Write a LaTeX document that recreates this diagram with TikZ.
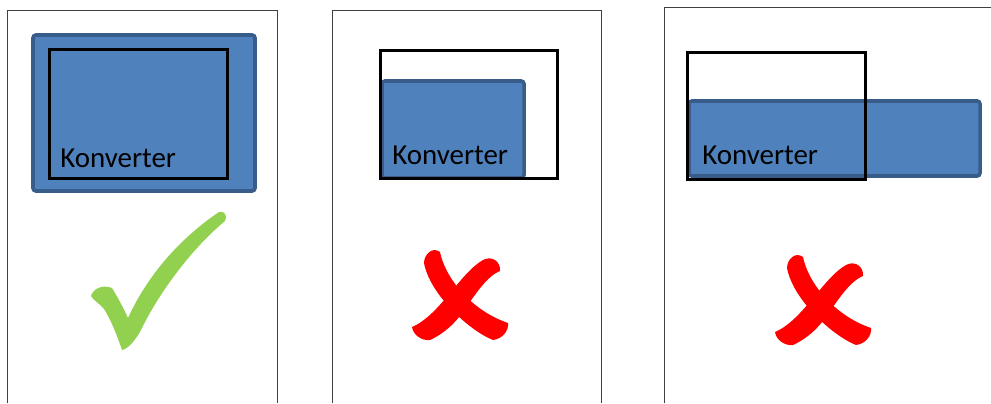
\documentclass[tikz,border=0pt]{standalone}
\usepackage{fontspec}
\setmainfont{Carlito}
\definecolor{kfill}{RGB}{79,129,189}
\definecolor{kedge}{RGB}{56,93,138}
\definecolor{okgreen}{RGB}{146,208,80}
\definecolor{badred}{RGB}{255,0,0}

\begin{document}
\begin{tikzpicture}[x=0.025cm, y=-0.025cm,
  frame/.style={draw=black!75, line width=0.7pt},
  conv/.style={fill=kfill, draw=kedge, line width=2.5pt, rounded corners=2pt},
  slot/.style={draw=black, line width=2.1pt},
  lbl/.style={anchor=base west, inner sep=0, font=\fontsize{20.6}{24}\selectfont},
]
\useasboundingbox (0,0) rectangle (991,403);
% ---- Rahmen der drei Fälle
\draw[frame] (7,403) -- (7,10) -- (277,10) -- (277,403);
\draw[frame] (332,403) -- (332,10) -- (601,10) -- (601,403);
\draw[frame] (664,403) -- (664,7) -- (991,7);
% ---- (1) Konverter deckt die Öffnung ganz ab
\draw[conv] (33,35) rectangle (255,191);
\draw[slot] (49.5,49.5) rectangle (227.5,178.5);
\node[lbl] (txtA) at (60,167) {Konverter};
% ---- (2) zu klein
\draw[conv] (382,81) rectangle (524,178);
\draw[slot] (380.5,50.5) rectangle (557.5,178.5);
\node[lbl] (txtB) at (392,164) {Konverter};
% ---- (3) verschoben
\draw[conv] (689,101) rectangle (980,176);
\draw[slot] (687.5,52.5) rectangle (865.5,179.5);
\node[lbl] (txtC) at (702,164) {Konverter};
% Haken
\fill[okgreen] (91,296) .. controls (93,289) and (102,284) .. (112,288)
  .. controls (117,296) and (124,309) .. (128,318)
  .. controls (150,270) and (185,235) .. (219,212)
  .. controls (224,210) and (228,216) .. (225,221)
  .. controls (190,250) and (158,295) .. (142,328)
  .. controls (136,340) and (128,349) .. (122,350)
  .. controls (117,335) and (110,318) .. (104,309)
  .. controls (99,303) and (93,300) .. (91,296) -- cycle;
% Kreuze
\foreach \cx/\cy in {460/295, 823/300} {
  \begin{scope}[shift={(\cx,\cy)}]
    \fill[badred] (-36,-32) .. controls (-36,-40) and (-28,-49) .. (-20,-43)
      .. controls (-15,-18) and (10,15) .. (48,28)
      .. controls (49,36) and (42,44) .. (33,45)
      .. controls (10,36) and (-30,0) .. (-36,-32) -- cycle;
    \fill[badred] (40,-24) .. controls (41,-33) and (32,-40) .. (23,-35)
      .. controls (0,-22) and (-20,20) .. (-48,32)
      .. controls (-47,40) and (-38,46) .. (-30,45)
      .. controls (-15,38) and (-5,28) .. (2,18)
      .. controls (12,5) and (25,-18) .. (40,-24) -- cycle;
  \end{scope}
}
\end{tikzpicture}
\end{document}
